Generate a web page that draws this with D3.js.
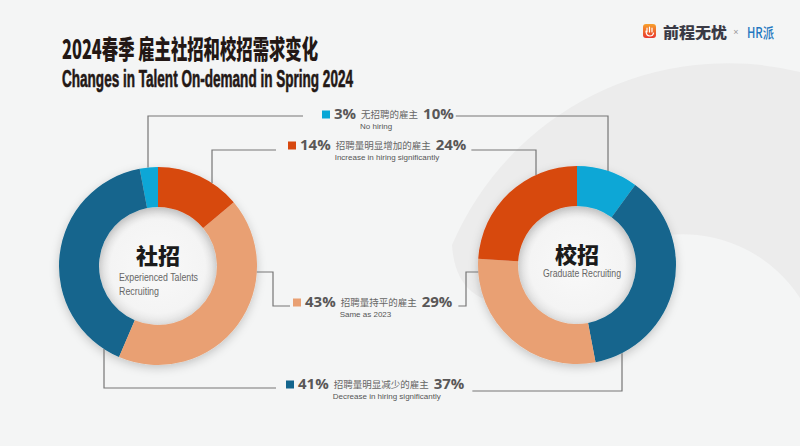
<!DOCTYPE html>
<html>
<head>
<meta charset="utf-8">
<script src="https://cdn.jsdelivr.net/npm/d3@7"></script>
<style>
  body { margin: 0; background: #f3f4f4; }
  svg { display: block; }
</style>
</head>
<body>
<script>
// categories, in legend order (top to bottom)
var categories = ['No hiring', 'Increase in hiring significantly', 'Same as 2023', 'Decrease in hiring significantly'];
var categoriesCN = ['无招聘的雇主', '招聘量明显增加的雇主', '招聘量持平的雇主', '招聘量明显减少的雇主'];
// share of employers, %
var experienced = [3, 14, 43, 41];
var graduate = [10, 24, 29, 37];
var colors = ['#08a7d6', '#d7480f', '#e9a073', '#13658d'];
// order of the slices round the ring, starting at 12 o'clock
var ringOrder = [0, 3, 2, 1];

var width = 800, height = 446;
var rOuter = 99, rInner = 59;

var svg = d3.select('body').append('svg')
	.attr('width', width)
	.attr('height', height);

var defs = svg.append('defs');
var shadow = defs.append('filter').attr('id', 'shadow')
	.attr('x', '-30%').attr('y', '-30%').attr('width', '160%').attr('height', '160%');
shadow.append('feDropShadow')
	.attr('dx', 0).attr('dy', 3).attr('stdDeviation', 5)
	.attr('flood-color', '#000').attr('flood-opacity', 0.2);
var hole = defs.append('radialGradient').attr('id', 'hole');
hole.append('stop').attr('offset', '0%').attr('stop-color', '#f9f9f9');
hole.append('stop').attr('offset', '80%').attr('stop-color', '#f4f4f4');
hole.append('stop').attr('offset', '100%').attr('stop-color', '#e4e4e4');
var icon = defs.append('linearGradient').attr('id', 'icon')
	.attr('x1', 0).attr('y1', 0).attr('x2', 0).attr('y2', 1);
icon.append('stop').attr('offset', '0%').attr('stop-color', '#f7a12c');
icon.append('stop').attr('offset', '100%').attr('stop-color', '#e8362e');

svg.append('rect').attr('width', width).attr('height', height).attr('fill', '#f4f5f5');

// soft grey swoosh in the background
svg.append('path')
	.attr('d', 'M800,72 A300,300 0 0 0 452,245 C455,290 480,305 520,305 L562,303 A140,140 0 0 1 800,298 Z')
	.attr('fill', '#ececec');

// title
svg.append('text')
	.attr('x', 62).attr('y', 59)
	.attr('textLength', 256).attr('lengthAdjust', 'spacingAndGlyphs')
	.style('font-family', '"Noto Sans CJK SC", sans-serif')
	.style('font-weight', 900)
	.style('font-size', '26px')
	.attr('fill', '#231815')
	.text('2024春季 雇主社招和校招需求变化');
svg.append('text')
	.attr('x', 62).attr('y', 87)
	.attr('textLength', 291).attr('lengthAdjust', 'spacingAndGlyphs')
	.style('font-family', '"Liberation Sans Narrow", "Liberation Sans", sans-serif')
	.style('font-weight', 'bold')
	.style('font-size', '23px')
	.attr('fill', '#231815')
	.attr('stroke', '#231815').attr('stroke-width', 0.6)
	.text('Changes in Talent On-demand in Spring 2024');

// logo
var logo = svg.append('g');
logo.append('rect').attr('x', 643).attr('y', 24).attr('width', 13).attr('height', 14)
	.attr('rx', 3).attr('fill', 'url(#icon)');
logo.append('path')
	.attr('d', 'M647,28 v4 M649.5,27 v5 M652,28 v4 M646,31 q0,5 4,5 q3,0 3.5,-3')
	.attr('fill', 'none').attr('stroke', '#fff').attr('stroke-width', 1.2)
	.attr('stroke-linecap', 'round');
logo.append('text').attr('x', 663).attr('y', 37.5)
	.attr('textLength', 64).attr('lengthAdjust', 'spacingAndGlyphs')
	.style('font-family', '"Noto Sans CJK SC", sans-serif')
	.style('font-weight', 900).style('font-size', '15px')
	.attr('fill', '#3a3a45').text('前程无忧');
logo.append('text').attr('x', 736).attr('y', 35).attr('text-anchor', 'middle')
	.style('font-family', 'sans-serif').style('font-size', '9px')
	.attr('fill', '#999').text('×');
logo.append('text').attr('x', 747).attr('y', 37.5)
	.attr('textLength', 27).attr('lengthAdjust', 'spacingAndGlyphs')
	.style('font-family', '"Noto Sans CJK SC", sans-serif')
	.style('font-weight', 500).style('font-size', '15px')
	.attr('fill', '#2377c0').text('HR派');

// donuts
var arc = d3.arc().innerRadius(rInner).outerRadius(rOuter);
var donuts = [
	{cx: 158, cy: 266, values: experienced, end: -2 * Math.PI,
		title: '社招', sub: ['Experienced Talents', 'Recruiting'], subLen: [79, 40]},
	{cx: 577, cy: 265, values: graduate, end: 2 * Math.PI,
		title: '校招', sub: ['Graduate Recruiting'], subLen: [78]}
];

donuts.forEach(function (d) {
	var pie = d3.pie().sort(null).startAngle(0).endAngle(d.end)
		.value(function (i) { return d.values[i]; });
	var g = svg.append('g').attr('transform', 'translate(' + d.cx + ',' + d.cy + ')');
	g.append('circle').attr('r', rInner).attr('fill', 'url(#hole)');
	g.append('g').attr('filter', 'url(#shadow)')
		.selectAll('path')
		.data(pie(ringOrder))
		.enter().append('path')
		.attr('d', arc)
		.attr('fill', function (s) { return colors[s.data]; });

	g.append('text').attr('y', -2).attr('text-anchor', 'middle')
		.style('font-family', '"Noto Sans CJK SC", sans-serif')
		.style('font-weight', 900).style('font-size', '22px')
		.attr('fill', '#1b1b1b').text(d.title);
	var left = d.sub.length > 1;
	g.selectAll('.sub').data(d.sub).enter().append('text')
		.attr('x', left ? -39 : -34)
		.attr('y', function (t, i) { return left ? 15 + i * 14 : 12; })
		.attr('textLength', function (t, i) { return d.subLen[i]; })
		.attr('lengthAdjust', 'spacingAndGlyphs')
		.style('font-family', '"Liberation Sans Narrow", "Liberation Sans", sans-serif')
		.style('font-size', '11px')
		.attr('fill', '#666').text(function (t) { return t; });
});

// legend rows in the middle
var rowY = [119, 150, 307, 389];
var rowStart = [322, 288, 293, 286];
var gapLeft = [19, 12, 3, 10];
var gapRight = [2, 5, 6, 8];
var rows = [];

categories.forEach(function (c, i) {
	var g = svg.append('g');
	var x = rowStart[i];
	g.append('rect').attr('x', x).attr('y', rowY[i] - 8.5)
		.attr('width', 8).attr('height', 8).attr('fill', colors[i]);
	x += 12;
	var pctL = g.append('text').attr('x', x).attr('y', rowY[i])
		.style('font-family', '"Open Sans", sans-serif').style('font-weight', 'bold')
		.style('font-size', '15px').attr('fill', '#595757')
		.text(experienced[i] + '%');
	x += pctL.node().getComputedTextLength() + 5;
	var cn = g.append('text').attr('x', x).attr('y', rowY[i] - 1)
		.style('font-family', '"Noto Sans CJK SC", sans-serif')
		.style('font-size', '9.5px').attr('fill', '#666')
		.text(categoriesCN[i]);
	g.append('text').attr('x', x - 1).attr('y', rowY[i] + 10)
		.style('font-family', '"Liberation Sans Narrow", "Liberation Sans", sans-serif')
		.style('font-size', '8px').attr('fill', '#555')
		.text(c);
	x += cn.node().getComputedTextLength() + 5;
	var pctR = g.append('text').attr('x', x).attr('y', rowY[i])
		.style('font-family', '"Open Sans", sans-serif').style('font-weight', 'bold')
		.style('font-size', '15px').attr('fill', '#595757')
		.text(graduate[i] + '%');
	x += pctR.node().getComputedTextLength();
	rows.push({left: rowStart[i] - gapLeft[i], right: x + gapRight[i]});
});

// leader lines from each ring to its legend row
// 'x' = the line leaves the ring vertically at that x, 'y' = horizontally at that y
var leaders = [
	{d: 0, row: 0, via: 'x', at: 148, side: -1, lineY: 116},
	{d: 0, row: 1, via: 'x', at: 212, side: -1, lineY: 150},
	{d: 0, row: 2, via: 'y', at: 272, elbow: 273, lineY: 306},
	{d: 0, row: 3, via: 'x', at: 104, side: 1, lineY: 388},
	{d: 1, row: 0, via: 'x', at: 608, side: -1, lineY: 116},
	{d: 1, row: 1, via: 'x', at: 536, side: -1, lineY: 150},
	{d: 1, row: 2, via: 'y', at: 272, elbow: 466, lineY: 306},
	{d: 1, row: 3, via: 'x', at: 622, side: 1, lineY: 391}
];

svg.append('g').selectAll('path')
	.data(leaders)
	.enter().append('path')
	.attr('fill', 'none')
	.attr('stroke', '#767676')
	.attr('stroke-width', 1.2)
	.attr('d', function (l) {
		var c = donuts[l.d];
		var end = l.d === 0 ? rows[l.row].left : rows[l.row].right;
		if (l.via === 'x') {
			var dx = l.at - c.cx;
			var y0 = c.cy + l.side * Math.sqrt(rOuter * rOuter - dx * dx);
			return 'M' + l.at + ',' + y0 + 'V' + l.lineY + 'H' + end;
		}
		var dy = l.at - c.cy;
		var x0 = c.cx + (l.d === 0 ? 1 : -1) * Math.sqrt(rOuter * rOuter - dy * dy);
		return 'M' + x0 + ',' + l.at + 'H' + l.elbow + 'V' + l.lineY + 'H' + end;
	});
</script>
</body>
</html>
